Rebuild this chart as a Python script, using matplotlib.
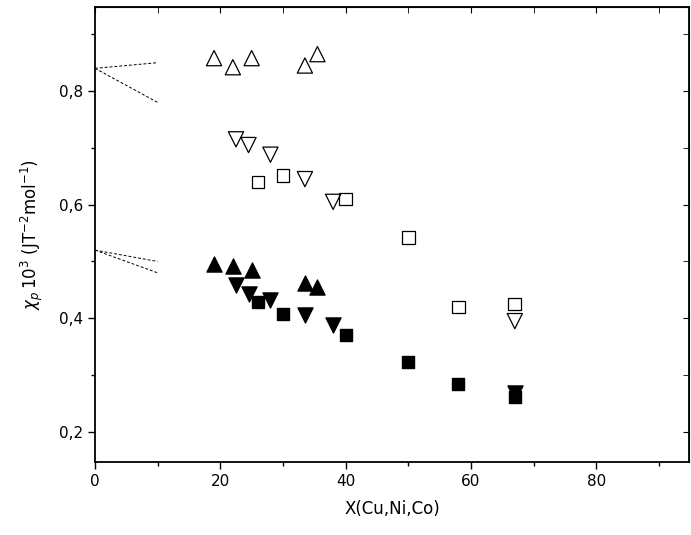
import matplotlib.pyplot as plt
from matplotlib.ticker import FuncFormatter, MultipleLocator

x_up = [19, 22, 25, 33.5, 35.5]
x_down = [22.5, 24.5, 28, 33.5, 38, 67]
x_sq = [26, 30, 40, 50, 58, 67]
open_up = [0.858, 0.842, 0.858, 0.845, 0.865]
open_down = [0.715, 0.705, 0.688, 0.645, 0.605, 0.395]
open_sq = [0.640, 0.652, 0.610, 0.542, 0.420, 0.425]
fill_up = [0.495, 0.492, 0.485, 0.462, 0.455]
fill_down = [0.458, 0.443, 0.432, 0.405, 0.388, 0.268]
fill_sq = [0.428, 0.407, 0.370, 0.323, 0.285, 0.262]

guide_x = [0, 10]
guides = [(0.84, 0.85), (0.84, 0.78), (0.52, 0.50), (0.52, 0.48)]

fig = plt.figure(figsize=(6.91, 5.35), dpi=100)
ax = fig.add_axes([95/691, 1-462/535, (689-95)/691, (462-7)/535])

for y0, y1 in guides:
    ax.plot(guide_x, [y0, y1], "k--", lw=0.7, dashes=(3, 2))

kw = dict(s=120, linewidths=0.9, edgecolors="black", zorder=3, clip_on=False)
ax.scatter(x_up, open_up, marker="^", facecolors="none", **kw)
ax.scatter(x_down, open_down, marker="v", facecolors="none", **kw)
ax.scatter(x_sq, open_sq, marker="s", facecolors="none", s=85, linewidths=0.9, edgecolors="black", zorder=3)
ax.scatter(x_up, fill_up, marker="^", facecolors="black", **kw)
ax.scatter(x_down, fill_down, marker="v", facecolors="black", **kw)
ax.scatter(x_sq, fill_sq, marker="s", facecolors="black", s=85, edgecolors="black", zorder=3)

ax.set_xlim(0, 94.8)
ax.set_ylim(0.147, 0.948)
ax.xaxis.set_major_locator(MultipleLocator(20))
ax.xaxis.set_minor_locator(MultipleLocator(10))
ax.yaxis.set_major_locator(MultipleLocator(0.2))
ax.yaxis.set_minor_locator(MultipleLocator(0.1))
ax.yaxis.set_major_formatter(FuncFormatter(lambda v, p: f"{v:.1f}".replace(".", ",")))
ax.tick_params(which="both", direction="out", top=False, right=False, labelsize=11)
ax.tick_params(which="major", length=5, width=1)
ax.tick_params(which="minor", length=3, width=1)
for sp in ax.spines.values():
    sp.set_linewidth(1.3)
ax2 = ax.secondary_xaxis("top")
ax2.xaxis.set_major_locator(MultipleLocator(20))
ax2.xaxis.set_minor_locator(MultipleLocator(10))
ax2.tick_params(which="both", direction="in", labeltop=False, length=4)
ax3 = ax.secondary_yaxis("right")
ax3.yaxis.set_major_locator(MultipleLocator(0.2))
ax3.yaxis.set_minor_locator(MultipleLocator(0.1))
ax3.tick_params(which="both", direction="in", labelright=False, length=4)

ax.set_xlabel("X(Cu,Ni,Co)", fontsize=12, labelpad=8)
ax.set_ylabel(r"$\chi_p\,10^3\ (\mathrm{JT^{-2}mol^{-1}})$", fontsize=12, labelpad=10)

fig.savefig("out.png")
